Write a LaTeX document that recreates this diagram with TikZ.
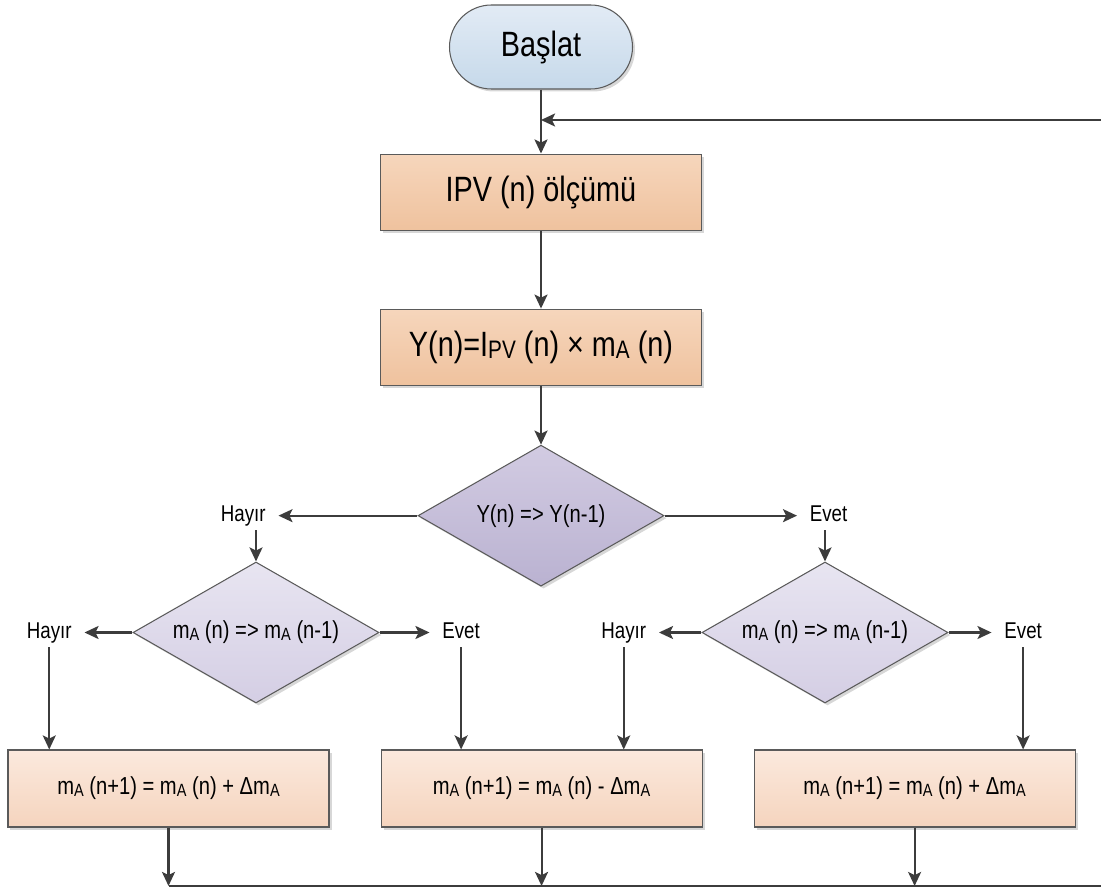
\documentclass[tikz,border=0pt]{standalone}
\usepackage{fontspec}
\setmainfont{Liberation Sans}[FakeStretch=0.82]
\usetikzlibrary{shapes, positioning, shadows, arrows.meta, calc}
\definecolor{linegray}{RGB}{60, 60, 60}
\definecolor{edgegray}{RGB}{90, 90, 90}
\definecolor{shadowgray}{RGB}{215, 215, 215}
\definecolor{starttop}{RGB}{226, 235, 245}
\definecolor{startbot}{RGB}{198, 217, 234}
\definecolor{proctop}{RGB}{246, 214, 188}
\definecolor{procbot}{RGB}{239, 194, 158}
\definecolor{procltop}{RGB}{251, 233, 221}
\definecolor{proclbot}{RGB}{245, 212, 190}
\definecolor{dectop}{RGB}{210, 203, 226}
\definecolor{decbot}{RGB}{186, 178, 209}
\definecolor{decltop}{RGB}{232, 229, 241}
\definecolor{declbot}{RGB}{212, 206, 228}
\newcommand{\ix}[1]{\raisebox{-0.15ex}{\scalebox{0.72}{#1}}}

\begin{document}
\begin{tikzpicture}[
      node distance=1.28cm,
      >={Stealth[length=8pt, width=7.4pt, inset=1.8pt]},
      shade/.style={drop shadow={shadow xshift=0.05cm, shadow yshift=-0.05cm,
                    fill=shadowgray, opacity=1}},
      term/.style={rectangle, rounded corners=0.84cm, draw=edgegray, line width=0.6pt,
                   top color=starttop, bottom color=startbot, minimum width=3.66cm,
                   minimum height=1.68cm, font=\fontsize{20}{24}\selectfont, shade},
      proc/.style={rectangle, draw=edgegray, line width=0.6pt, top color=proctop,
                   bottom color=procbot, minimum width=6.42cm, minimum height=1.52cm,
                   font=\fontsize{20}{24}\selectfont, shade},
      procl/.style={proc, top color=procltop, bottom color=proclbot,
                    minimum height=1.54cm, font=\fontsize{14}{17}\selectfont},
      decision/.style={diamond, aspect=1.74, draw=edgegray, line width=0.6pt,
                       top color=dectop, bottom color=decbot, inner sep=0pt,
                       minimum width=4.92cm, minimum height=2.82cm,
                       font=\fontsize{14}{17}\selectfont, shade},
      decisionl/.style={decision, top color=decltop, bottom color=declbot},
      lbl/.style={inner xsep=0.25cm, inner ysep=2pt, text height=9.5pt,
                  text depth=2.7pt, font=\fontsize{13}{16}\selectfont},
      arrow/.style={->, line width=1.2pt, draw=linegray}
  ]
  \useasboundingbox (0,0) rectangle (22.02,-17.76);

  \node[term] (start) at (10.82,-0.94) {Başlat};
  \node[proc, below=1.28cm of start] (ipv)   {IPV (n) ölçümü};
  \node[proc, below=1.56cm of ipv]   (ycalc) {Y(n)=I\ix{PV} (n) × m\ix{A} (n)};
  \node[decision, below=1.18cm of ycalc] (dec) {Y(n) => Y(n-1)};
  \node[lbl, left=2.78cm of dec]  (h0) {Hayır};
  \node[lbl, right=2.65cm of dec] (e0) {Evet};

  \node[decisionl] (dl) at (5.12,-12.65) {m\ix{A} (n) => m\ix{A} (n-1)};
  \node[decisionl] (dr) at (16.5,-12.65) {m\ix{A} (n) => m\ix{A} (n-1)};
  \node[lbl, left=0.96cm of dl]  (h1) {Hayır};
  \node[lbl, right=1.0cm of dl]  (e1) {Evet};
  \node[lbl, left=0.85cm of dr]  (h2) {Hayır};
  \node[lbl, right=0.86cm of dr] (e2) {Evet};

  \node[procl] (b1) at (3.37,-15.77)     {m\ix{A} (n+1) = m\ix{A} (n) + Δm\ix{A}};
  \node[procl, right=1.02cm of b1] (b2) {m\ix{A} (n+1) = m\ix{A} (n) - Δm\ix{A}};
  \node[procl, right=1.02cm of b2] (b3) {m\ix{A} (n+1) = m\ix{A} (n) + Δm\ix{A}};

  \coordinate (bot)  at (22.2,-17.72);
  \coordinate (back) at (22.2,-2.4);

  \draw[arrow] (start) -- (ipv);
  \draw[arrow] (ipv) -- (ycalc);
  \draw[arrow] (ycalc) -- (dec);
  \draw[arrow] (dec) -- (h0);
  \draw[arrow] (dec) -- (e0);
  \draw[arrow] (dl.north |- h0.south) -- (dl.north);
  \draw[arrow] (dr.north |- e0.south) -- (dr.north);

  \draw[arrow] (dl) -- (h1);
  \draw[arrow] (dl) -- (e1);
  \draw[arrow] (dr) -- (h2);
  \draw[arrow] (dr) -- (e2);
  \draw[arrow] (h1) -- (h1 |- b1.north);
  \draw[arrow] (e1) -- (e1 |- b2.north);
  \draw[arrow] (h2) -- (h2 |- b2.north);
  \draw[arrow] (e2) -- (e2 |- b3.north);

  \draw[arrow] (b1) -- (b1 |- bot);
  \draw[arrow] (b2) -- (b2 |- bot);
  \draw[arrow] (b3) -- (b3 |- bot);

  % back to the measurement
  \draw[arrow] (b1 |- bot) -- (bot) -- (back) -- (start |- back);
\end{tikzpicture}
\end{document}
